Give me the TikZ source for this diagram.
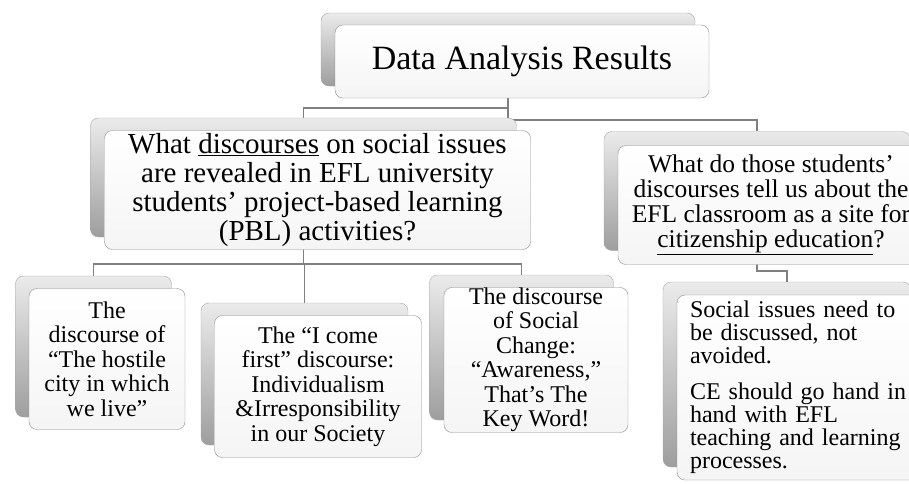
\documentclass[tikz,border=0pt]{standalone}
\usepackage{fontspec}
\setmainfont{Liberation Serif}
\usetikzlibrary{backgrounds}

\begin{document}
\begin{tikzpicture}[
  x=1pt, y=-1pt,
  back/.style={draw=black!35, rounded corners=8pt, top color=black!8, bottom color=black!38, inner sep=0pt},
  front/.style={draw=black!45, rounded corners=8pt, top color=white, bottom color=black!4, align=center, inner sep=0pt},
  link/.style={draw=black!50, line width=1.6pt},
  lvl0/.style={font=\fontsize{34}{36}\selectfont},
  lvl1/.style={font=\fontsize{29}{29}\selectfont},
  lvl1r/.style={font=\fontsize{25.5}{25}\selectfont},
  lvl2/.style={font=\fontsize{24}{24.5}\selectfont},
]
  \useasboundingbox (0,0) rectangle (909,483);
  \clip (0,0) rectangle (909,483);

  % ---------- root ----------
  \node[back, minimum width=374pt, minimum height=73pt] (topB) at (508,49.5) {};
  \node[front, lvl0, minimum width=374pt, minimum height=73pt] (topF) at (522,61.5)
    {Data Analysis Results};

  % ---------- first question ----------
  \node[back, minimum width=426pt, minimum height=119pt] (q1B) at (303.5,177.5) {};
  \node[front, lvl1, minimum width=426pt, minimum height=119pt] (q1F) at (317.5,190)
    {What \underline{discourses} on social issues\\ are revealed in EFL university\\
     students’ project-based learning\\ (PBL) activities?};

  % ---------- second question ----------
  \node[back, minimum width=306pt, minimum height=119pt] (q2B) at (757,191) {};
  \node[front, lvl1r, minimum width=306pt, minimum height=119pt] (q2F) at (771,205)
    {What do those students’\\ discourses tell us about the\\
     EFL classroom as a site for\\ \underline{citizenship education}?};

  % ---------- discourses ----------
  \node[back, minimum width=156pt, minimum height=141pt] (d1B) at (93.5,346.5) {};
  \node[front, lvl2, minimum width=156pt, minimum height=141pt] (d1F) at (107,359)
    {The\\ discourse of\\ “The hostile\\ city in which\\ we live”};

  \node[back, minimum width=207pt, minimum height=142pt] (d2B) at (304.5,374) {};
  \node[front, lvl2, minimum width=207pt, minimum height=142pt] (d2F) at (318,386.5)
    {The “I come\\ first” discourse:\\ Individualism\\ \&Irresponsibility\\ in our Society};

  \node[back, minimum width=184pt, minimum height=145pt] (d3B) at (521.5,347.5) {};
  \node[front, lvl2, minimum width=184pt, minimum height=145pt] (d3F) at (536,360)
    {The discourse\\ of Social\\ Change:\\ “Awareness,”\\ That’s The\\ Key Word!};

  % ---------- answer ----------
  \node[back, minimum width=248pt, minimum height=185pt] (ansB) at (787,374.5) {};
  \node[front, font=\fontsize{24}{23}\selectfont, align=left, text width=222pt,
        inner xsep=13pt, minimum height=185pt] (ansF) at (801,387.5)
    {Social issues need to\\ be discussed, not\\ avoided.\\[13pt]
     CE should go hand in\\ hand with EFL\\ teaching and learning\\ processes.};

  % connectors behind the boxes
  \begin{scope}[on background layer]
    \draw[link] (topB.south) -- ++(0,22) -| (q1B.north);
    \draw[link] (topB.south) -- ++(0,34) -| (q2B.north);
    \draw[link] (q1B.south) -- ++(0,27) -| (d1B.north);
    \draw[link] (q1B.south) -- ++(0,27) -| (d2B.north);
    \draw[link] (q1B.south) -- ++(0,27) -| (d3B.north);
    \draw[link] (q2B.south) -- ++(0,20) -| (ansB.north);
  \end{scope}
\end{tikzpicture}
\end{document}
